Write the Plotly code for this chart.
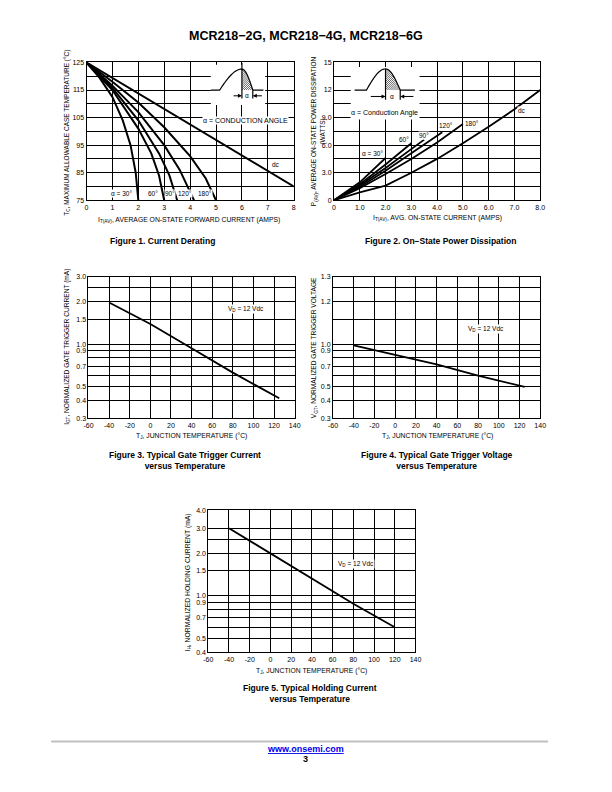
import math
import plotly.graph_objects as go

# ---------------- data ----------------
# Figure 1: Current derating  (I_T(AV) in A  ->  T_C in °C)
derate_30_i = [0, 0.5, 1.0, 1.4, 1.7, 1.9, 2.0]
derate_30_t = [125, 119.5, 112.5, 104, 95, 85, 75]
derate_60_i = [0, 1.0, 2.0, 2.5, 2.8, 3.0]
derate_60_t = [125, 115, 101, 92, 84, 75]
derate_90_i = [0, 1.0, 2.0, 2.8, 3.2, 3.5]
derate_90_t = [125, 115.8, 104, 92, 84, 75]
derate_120_i = [0, 1.0, 2.0, 3.0, 3.6, 4.15]
derate_120_t = [125, 116.6, 107, 95, 86, 75]
derate_180_i = [0, 1.0, 2.0, 3.0, 4.0, 4.6, 5.0]
derate_180_t = [125, 118, 110.5, 101.5, 91, 83, 75]
derate_dc_i = [0, 8]
derate_dc_t = [125, 80]
derate_labels = ["α = 30°", "60°", "90°", "120°", "180°", "dc"]
derate_label_i = [1.35, 2.55, 3.22, 3.8, 4.58, 7.3]
derate_label_t = [77.6, 77.6, 77.6, 77.6, 77.6, 88.0]

# Figure 2: On-state power dissipation (I_T(AV) in A -> P(AV) in W)
power_30_i = [0, 1.0, 2.0]
power_30_p = [0, 1.95, 4.6]
power_60_i = [0, 1.0, 2.0, 3.0]
power_60_p = [0, 1.75, 3.9, 6.2]
power_90_i = [0, 1.0, 2.0, 3.0, 3.5]
power_90_p = [0, 1.6, 3.5, 5.6, 6.6]
power_120_i = [0, 1.0, 2.0, 3.0, 4.0, 4.2]
power_120_p = [0, 1.45, 3.2, 5.1, 7.0, 7.4]
power_180_i = [0, 1.0, 2.0, 3.0, 4.0, 5.0]
power_180_p = [0, 1.3, 2.85, 4.5, 6.3, 8.3]
power_dc_i = [0, 1, 2, 3, 4, 5, 6, 7, 8]
power_dc_p = [0, 0.85, 1.6, 3.0, 4.5, 6.2, 8.0, 9.9, 12.0]
power_labels = ["α = 30°", "60°", "90°", "120°", "180°", "dc"]
power_label_i = [1.5, 2.73, 3.5, 4.33, 5.37, 7.3]
power_label_p = [5.06, 6.6, 7.1, 8.1, 8.4, 9.8]

# Figure 3: gate trigger current vs temperature
igt_tj = [-40, 0, 40, 80, 125]
igt_val = [1.97, 1.39, 0.935, 0.63, 0.415]
# Figure 4: gate trigger voltage vs temperature
vgt_tj = [-40, 0, 40, 80, 125]
vgt_val = [0.98, 0.84, 0.72, 0.60, 0.50]
# Figure 5: holding current vs temperature
ih_tj = [-40, 0, 40, 80, 120]
ih_val = [3.0, 2.0, 1.33, 0.88, 0.60]

# tick labels and grid positions
f1_x_ticks = [0, 1, 2, 3, 4, 5, 6, 7, 8]
f1_x_text = ["0", "1", "2", "3", "4", "5", "6", "7", "8"]
f1_y_ticks = [75, 85, 95, 105, 115, 125]
f1_y_text = ["75", "85", "95", "105", "115", "125"]
f1_y_grid = [80, 90, 100, 110, 120]
f2_x_ticks = [0, 1, 2, 3, 4, 5, 6, 7, 8]
f2_x_text = ["0", "1.0", "2.0", "3.0", "4.0", "5.0", "6.0", "7.0", "8.0"]
f2_y_ticks = [0, 3, 6, 9, 12, 15]
f2_y_text = ["0", "3.0", "6.0", "9.0", "12", "15"]
f2_y_grid = [1.5, 4.5, 7.5, 10.5, 13.5]
tj_ticks = [-60, -40, -20, 0, 20, 40, 60, 80, 100, 120, 140]
tj_text = ["-60", "-40", "-20", "0", "20", "40", "60", "80", "100", "120", "140"]
f3_y_ticks = [0.3, 0.4, 0.5, 0.7, 0.9, 1.0, 1.5, 2.0, 3.0]
f3_y_text = ["0.3", "0.4", "0.5", "0.7", "0.9", "1.0", "1.5", "2.0", "3.0"]
f3_y_grid = [0.6, 0.8, 2.5]
f4_y_ticks = [0.3, 0.4, 0.5, 0.7, 0.9, 1.0, 2.0, 3.0]
f4_y_text = ["0.3", "0.4", "0.5", "0.7", "0.9", "1.0", "1.2", "1.3"]
f4_y_grid = [0.6, 0.8, 1.5, 2.5]
f5_y_ticks = [0.4, 0.5, 0.7, 0.9, 1.0, 1.5, 2.0, 3.0, 4.0]
f5_y_text = ["0.4", "0.5", "0.7", "0.9", "1.0", "1.5", "2.0", "3.0", "4.0"]
f5_y_grid = [0.6, 0.8, 2.5]

# ---------------- layout helpers ----------------
W, H = 612, 792
NARROW = "'Liberation Sans Narrow', 'Arial Narrow', 'Liberation Sans', Arial, sans-serif"
SANS = "'Liberation Sans', Arial, Helvetica, sans-serif"


def PX(x):
    return x / W


def PY(y):
    return 1 - y / H


def dx(a, b):
    return [a / W, b / W]


def dy(top, bottom):
    return [1 - bottom / H, 1 - top / H]


def base_axis(grid=None, **kw):
    d = dict(showline=True, mirror=True, linecolor="black", linewidth=1,
             showgrid=True, gridcolor="black", gridwidth=1, zeroline=False,
             ticks="", tickfont=dict(family=NARROW, size=7, color="black"),
             fixedrange=True, tickmode="array")
    if grid:
        d["minor"] = dict(tickmode="array", tickvals=grid, showgrid=True,
                          gridcolor="black", gridwidth=1, ticks="")
    d.update(kw)
    return d


fig = go.Figure()


def add_line(x, y, ax, width=2.0):
    fig.add_trace(go.Scatter(x=x, y=y, mode="lines",
                             line=dict(color="black", width=width),
                             xaxis="x" + ax, yaxis="y" + ax,
                             showlegend=False, hoverinfo="skip"))


for xi, yi in [(derate_30_i, derate_30_t), (derate_60_i, derate_60_t),
               (derate_90_i, derate_90_t), (derate_120_i, derate_120_t),
               (derate_180_i, derate_180_t), (derate_dc_i, derate_dc_t)]:
    add_line(xi, yi, "", 2.0)
for xi, yi in [(power_30_i, power_30_p), (power_60_i, power_60_p),
               (power_90_i, power_90_p), (power_120_i, power_120_p),
               (power_180_i, power_180_p), (power_dc_i, power_dc_p)]:
    add_line(xi, yi, "2", 1.8)
add_line(igt_tj, igt_val, "3", 1.8)
add_line(vgt_tj, vgt_val, "4", 1.8)
add_line(ih_tj, ih_val, "5", 1.8)

P1 = dict(x=(83, 294), y=(59, 198))
P2 = dict(x=(335, 545), y=(59, 198))
P3 = dict(x=(85, 295), y=(275, 418))
P4 = dict(x=(334, 545), y=(275, 418))
P5 = dict(x=(207, 418), y=(511, 654))

layout = dict(
    width=W, height=H, margin=dict(l=0, r=0, t=0, b=0),
    paper_bgcolor="white", plot_bgcolor="white", showlegend=False,
    xaxis=base_axis(domain=dx(*P1["x"]), anchor="y", range=[0, 8],
                    tickvals=f1_x_ticks, ticktext=f1_x_text),
    yaxis=base_axis(grid=f1_y_grid, domain=dy(*P1["y"]), anchor="x", range=[75, 125],
                    tickvals=f1_y_ticks, ticktext=f1_y_text),
    xaxis2=base_axis(domain=dx(*P2["x"]), anchor="y2", range=[0, 8],
                     tickvals=f2_x_ticks, ticktext=f2_x_text),
    yaxis2=base_axis(grid=f2_y_grid, domain=dy(*P2["y"]), anchor="x2", range=[0, 15],
                     tickvals=f2_y_ticks, ticktext=f2_y_text),
    xaxis3=base_axis(domain=dx(*P3["x"]), anchor="y3", range=[-60, 140],
                     tickvals=tj_ticks, ticktext=tj_text),
    yaxis3=base_axis(grid=f3_y_grid, domain=dy(*P3["y"]), anchor="x3", type="log",
                     range=[math.log10(0.3), math.log10(3.0)],
                     tickvals=f3_y_ticks, ticktext=f3_y_text),
    xaxis4=base_axis(domain=dx(*P4["x"]), anchor="y4", range=[-60, 140],
                     tickvals=tj_ticks, ticktext=tj_text),
    yaxis4=base_axis(grid=f4_y_grid, domain=dy(*P4["y"]), anchor="x4", type="log",
                     range=[math.log10(0.3), math.log10(3.0)],
                     tickvals=f4_y_ticks, ticktext=f4_y_text),
    xaxis5=base_axis(domain=dx(*P5["x"]), anchor="y5", range=[-60, 140],
                     tickvals=tj_ticks, ticktext=tj_text),
    yaxis5=base_axis(grid=f5_y_grid, domain=dy(*P5["y"]), anchor="x5", type="log",
                     range=[math.log10(0.4), math.log10(4.0)],
                     tickvals=f5_y_ticks, ticktext=f5_y_text),
)
fig.update_layout(**layout)

annotations = []
shapes = []


def note(text, x, y, size=7, family=NARROW, angle=0, color="black",
         xanchor="center", yanchor="middle", xref="paper", yref="paper", bg=None):
    a = dict(text=text, x=x, y=y, xref=xref, yref=yref, showarrow=False,
             font=dict(family=family, size=size, color=color),
             xanchor=xanchor, yanchor=yanchor, textangle=angle)
    if bg:
        a["bgcolor"] = bg
        a["borderpad"] = 0
    annotations.append(a)


note("<b>MCR218−2G, MCR218−4G, MCR218−6G</b>", PX(306), PY(32), size=12.5, family=SANS)

note("<b>Figure 1. Current Derating</b>", PX(160), PY(239), size=8.5, family=SANS)
note("<b>Figure 2. On−State Power Dissipation</b>", PX(443), PY(239), size=8.5, family=SANS)
note("<b>Figure 3. Typical Gate Trigger Current<br>versus Temperature</b>", PX(183), PY(461), size=8.5, family=SANS)
note("<b>Figure 4. Typical Gate Trigger Voltage<br>versus Temperature</b>", PX(440), PY(461), size=8.5, family=SANS)
note("<b>Figure 5. Typical Holding Current<br>versus Temperature</b>", PX(311), PY(696), size=8.5, family=SANS)

note("I<sub>T(AV)</sub>, AVERAGE ON-STATE FORWARD CURRENT (AMPS)", PX(187), PY(218), size=6.8)
note("T<sub>C</sub>, MAXIMUM ALLOWABLE CASE TEMPERATURE (°C)", PX(63), PY(130), size=6.5, angle=-90)
note("I<sub>T(AV)</sub>, AVG. ON-STATE CURRENT (AMPS)", PX(440), PY(216), size=6.8)
note("P<sub>(AV)</sub>, AVERAGE ON-STATE POWER DISSIPATION<br>(WATTS)", PX(319), PY(128), size=6.5, angle=-90)
note("T<sub>J</sub>, JUNCTION TEMPERATURE (°C)", PX(190), PY(436), size=6.8)
note("I<sub>GT</sub>, NORMALIZED GATE TRIGGER CURRENT (mA)", PX(63), PY(346), size=6.6, angle=-90)
note("T<sub>J</sub>, JUNCTION TEMPERATURE (°C)", PX(440), PY(436), size=6.8)
note("V<sub>GT</sub>, NORMALIZED GATE TRIGGER VOLTAGE", PX(315), PY(347), size=6.6, angle=-90)
note("T<sub>J</sub>, JUNCTION TEMPERATURE (°C)", PX(312), PY(673), size=6.8)
note("I<sub>H</sub>, NORMALIZED HOLDING CURRENT (mA)", PX(186), PY(584), size=6.8, angle=-90)

for t, xv, yv in zip(derate_labels, derate_label_i, derate_label_t):
    note(t, xv, yv, size=6.5, xref="x", yref="y", bg="white")
for t, xv, yv in zip(power_labels, power_label_i, power_label_p):
    note(t, xv, yv, size=6.5, xref="x2", yref="y2", bg="white")
note("V<sub>D</sub> = 12 Vdc", 93, math.log10(1.78), size=6.5, xref="x3", yref="y3", bg="white")
note("V<sub>D</sub> = 12 Vdc", 88, math.log10(1.29), size=6.5, xref="x4", yref="y4", bg="white")
note("V<sub>D</sub> = 12 Vdc", 83, math.log10(1.69), size=6.5, xref="x5", yref="y5", bg="white")


# ---------- inset waveform diagrams (decoration) ----------
def inset(xr, yr, boxes, left, rise, peak, fall, right, base, top, arrow_y, tick_y,
          arr_l, arr_r, kx, spacing, text_pos, text, alpha_x, peak_up=None):
    for b in boxes:
        shapes.append(dict(type="rect", xref=xr, yref=yr, x0=b[0], x1=b[1],
                           y0=b[2], y1=b[3], fillcolor="white",
                           line=dict(width=0), layer="above"))
    pts = [(left, base), (rise, base)]
    n = 16
    for k in range(1, n + 1):
        t = k / n
        pts.append((rise + (peak - rise) * t, base + (top - base) * math.sin(math.pi / 2 * t)))
    for k in range(1, n + 1):
        t = k / n
        pts.append((peak + (fall - peak) * t, base + (top - base) * math.cos(math.pi / 2 * t)))
    pts.append((right, base))
    path = "M" + " L".join(f"{a:.4f},{b:.4f}" for a, b in pts)
    path += f" M{peak},{top} L{peak},{tick_y} M{fall},{base} L{fall},{tick_y}"
    if peak_up is not None:
        path += f" M{peak},{top} L{peak},{peak_up}"
    h = top - base
    c = peak - h / kx
    hatch = []
    while c < fall:
        xs = max(c, peak)
        ys = base + kx * (xs - c)
        if ys < top:
            xe = fall
            for k in range(301):
                xx = xs + (fall - xs) * k / 300
                yc = base + h * math.cos(math.pi / 2 * (xx - peak) / (fall - peak))
                if base + kx * (xx - c) >= yc:
                    xe = xx
                    break
            hatch.append(f"M{xs:.4f},{ys:.4f} L{xe:.4f},{base + kx * (xe - c):.4f}")
        c += spacing
    shapes.append(dict(type="path", xref=xr, yref=yr, path=" ".join(hatch),
                       line=dict(color="black", width=0.6), layer="above"))
    shapes.append(dict(type="path", xref=xr, yref=yr, path=path,
                       line=dict(color="black", width=1.2), layer="above"))
    for tail, tip in [(arr_l, peak), (arr_r, fall)]:
        annotations.append(dict(x=tip, y=arrow_y, ax=tail, ay=arrow_y, xref=xr, yref=yr,
                                axref=xr, ayref=yr, text="", showarrow=True,
                                arrowhead=2, arrowsize=0.8, arrowwidth=1, arrowcolor="black"))
    note("α", alpha_x, arrow_y, size=6.5, xref=xr, yref=yr)
    note(text, text_pos[0], text_pos[1], size=7, xref=xr, yref=yr, bg="white")


inset("x", "y", boxes=[(4.8, 6.9, 109.6, 124.2)], left=4.8, rise=5.14, peak=6.0,
      fall=6.42, right=6.83, base=115.0, top=122.6, arrow_y=112.9, tick_y=111.9,
      arr_l=5.62, arr_r=6.83, kx=9.5, spacing=0.08, text_pos=(6.12, 103.8),
      text="α = CONDUCTION ANGLE", alpha_x=6.21, peak_up=125)
inset("x2", "y2", boxes=[(0.65, 3.32, 8.8, 14.5)], left=0.8, rise=1.26, peak=2.0,
      fall=2.57, right=3.14, base=12.0, top=14.3, arrow_y=11.3, tick_y=10.95,
      arr_l=1.37, arr_r=3.14, kx=2.83, spacing=0.08, text_pos=(1.97, 9.47),
      text="α = Conduction Angle", alpha_x=2.27)

shapes.append(dict(type="line", xref="paper", yref="paper", x0=PX(47), x1=PX(553),
                   y0=PY(744), y1=PY(744), line=dict(color="#c0c0c0", width=2)))
note("<b><u>www.onsemi.com</u></b>", PX(306), PY(752), size=9, family=SANS, color="#0000ee")
note("<b>3</b>", PX(306), PY(762), size=9, family=SANS)

fig.update_layout(annotations=annotations, shapes=shapes)
fig.write_html(
    "out.html",
    config={"displayModeBar": False, "staticPlot": True},
    post_script="document.body.style.margin='0';document.body.style.padding='0';"
                "document.documentElement.style.overflow='hidden';",
)
